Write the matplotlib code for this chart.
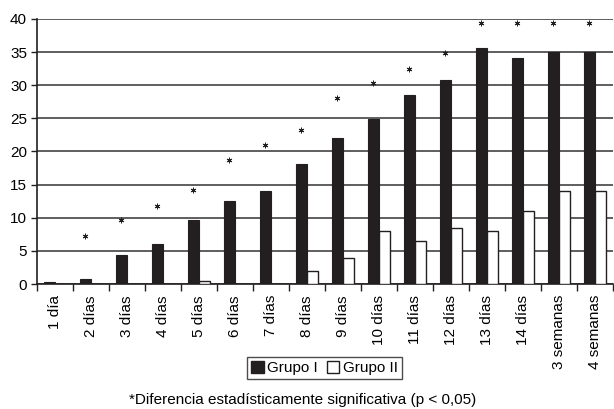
import numpy as np
import matplotlib.pyplot as plt
from matplotlib.patches import Patch

plt.rcParams['font.family'] = ['Liberation Sans', 'DejaVu Sans']

categorias = ['1 día', '2 días', '3 días', '4 días', '5 días', '6 días', '7 días',
              '8 días', '9 días', '10 días', '11 días', '12 días', '13 días',
              '14 días', '3 semanas', '4 semanas']
grupo_1 = [0.3, 0.7, 4.4, 6.1, 9.7, 12.6, 14.0, 18.1, 22.1, 24.9, 28.5, 30.8,
           35.6, 34.1, 35.0, 35.0]
grupo_2 = [0, 0, 0, 0, 0.4, 0, 0, 2.0, 4.0, 8.0, 6.5, 8.5, 8.0, 11.0, 14.0, 14.0]
# altura de los asteriscos (diferencia significativa)
asteriscos = [None, 7.3, 9.6, 11.8, 14.2, 18.7, 21.0, 23.3, 28.0, 30.3, 32.5,
              34.8, 39.4, 39.4, 39.4, 39.4]

fig = plt.figure(figsize=(6.14, 4.09), dpi=100)
ax = fig.add_axes([0.060, 0.3056, 0.938, 0.648])

x = np.arange(len(categorias))
w = 0.3
gris = '#231f20'

ax.set_axisbelow(True)
ax.yaxis.grid(True, color='#333333', linewidth=1.1)
ax.bar(x - w / 2, grupo_1, w, color=gris, edgecolor=gris, linewidth=0.8, zorder=3)
ax.bar(x + w / 2, grupo_2, w, color='white', edgecolor=gris, linewidth=1.0, zorder=3)

ax_x = [xi - w / 2 for xi, a in zip(x, asteriscos) if a is not None]
ax_y = [a for a in asteriscos if a is not None]
ax.plot(ax_x, ax_y, linestyle='none', marker=(6, 2, 0), markersize=4,
        color=gris, markeredgewidth=0.7, zorder=4)

ax.set_xlim(-0.5, len(categorias) - 0.5)
ax.set_ylim(0, 40)
ax.set_yticks(range(0, 41, 5))
ax.set_xticks(x)
ax.set_xticklabels(categorias, rotation=90, fontsize=11)
ax.set_xticks(np.arange(-0.5, len(categorias), 1), minor=True)
ax.tick_params(axis='x', which='major', length=0, pad=8)
ax.tick_params(axis='x', which='minor', length=5, width=1, direction='out', color=gris)
ax.tick_params(axis='y', length=4, width=1, color=gris, labelsize=11, pad=3)

for s in ['top', 'right']:
    ax.spines[s].set_visible(False)
for s in ['left', 'bottom']:
    ax.spines[s].set_color(gris)
    ax.spines[s].set_linewidth(1.2)

handles = [Patch(facecolor=gris, edgecolor=gris, label='Grupo I'),
           Patch(facecolor='white', edgecolor=gris, label='Grupo II')]
leg = fig.legend(handles=handles, loc='center', bbox_to_anchor=(0.529, 0.100),
                 ncol=2, fontsize=11, frameon=True, fancybox=False,
                 handlelength=0.8, handleheight=0.8, handletextpad=0.25,
                 columnspacing=0.6, borderpad=0.25, borderaxespad=0)
leg.get_frame().set_edgecolor(gris)
leg.get_frame().set_linewidth(1.0)

fig.text(0.4935, 0.022, '*Diferencia estadísticamente significativa (p < 0,05)',
         ha='center', va='center', fontsize=11)

fig.savefig('out.png', dpi=100)
